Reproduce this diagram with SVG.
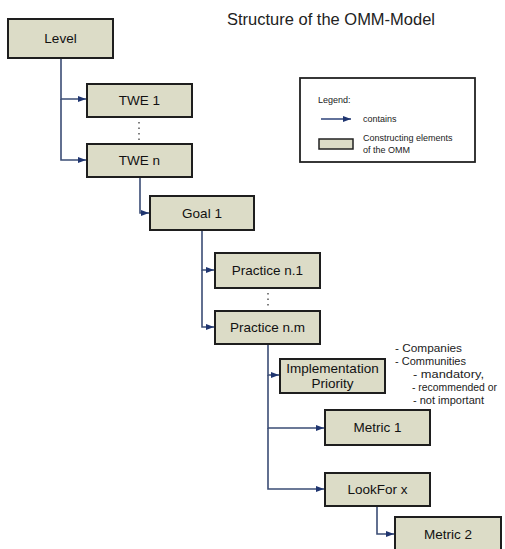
<svg xmlns="http://www.w3.org/2000/svg" width="505" height="549" viewBox="0 0 505 549">
<style>
.box{fill:#dcdcc7;stroke:#1e1e1e;stroke-width:2}
.lbl{font-family:"Liberation Sans",Arial,sans-serif;font-size:13.5px;fill:#111;text-anchor:middle}
.conn{fill:none;stroke:#3b4d75;stroke-width:1.6}
.dots{stroke:#555;stroke-width:1.5;stroke-dasharray:1.5 4;fill:none}
.note{font-family:"Liberation Sans",Arial,sans-serif;font-size:11.5px;fill:#222}
.leg{font-family:"Liberation Sans",Arial,sans-serif;font-size:9px;fill:#222}
</style>
<defs>
<marker id="arr" markerWidth="8" markerHeight="6" refX="8" refY="3" orient="auto" markerUnits="userSpaceOnUse">
<path d="M0,0 L8,3 L0,6 Z" fill="#1f3570"/>
</marker>
</defs>
<rect width="505" height="549" fill="#fff"/>
<text x="227" y="25" font-family="Liberation Sans,Arial,sans-serif" font-size="16" fill="#222" textLength="208" lengthAdjust="spacingAndGlyphs">Structure of the OMM-Model</text>

<g id="connectors">
<path class="conn" d="M61,58 V99 H86" marker-end="url(#arr)"/>
<path class="conn" d="M61,99 V160 H86" marker-end="url(#arr)"/>
<path class="conn" d="M140,177 V213 H149" marker-end="url(#arr)"/>
<path class="conn" d="M202,230 V270 H214" marker-end="url(#arr)"/>
<path class="conn" d="M202,270 V327 H214" marker-end="url(#arr)"/>
<path class="conn" d="M268,344 V375 H279" marker-end="url(#arr)"/>
<path class="conn" d="M268,375 V428 H324" marker-end="url(#arr)"/>
<path class="conn" d="M268,428 V489 H324" marker-end="url(#arr)"/>
<path class="conn" d="M377,506 V534 H394" marker-end="url(#arr)"/>
<path class="dots" d="M139,122 V140"/>
<path class="dots" d="M268,293 V309"/>
</g>

<g id="level"><rect class="box" x="8" y="19" width="105" height="39"/><text class="lbl" x="60.5" y="43">Level</text></g>
<g id="twe1"><rect class="box" x="87" y="84" width="105" height="33"/><text class="lbl" x="139.5" y="105">TWE 1</text></g>
<g id="twen"><rect class="box" x="87" y="144" width="105" height="33"/><text class="lbl" x="139.5" y="165">TWE n</text></g>
<g id="goal1"><rect class="box" x="150" y="196" width="104" height="34"/><text class="lbl" x="202" y="218">Goal 1</text></g>
<g id="practice-n1"><rect class="box" x="215" y="253" width="105" height="35"/><text class="lbl" x="267.5" y="275">Practice n.1</text></g>
<g id="practice-nm"><rect class="box" x="215" y="311" width="105" height="33"/><text class="lbl" x="267.5" y="332">Practice n.m</text></g>
<g id="impl-priority"><rect class="box" x="280" y="359" width="105" height="34"/><text class="lbl" x="332.5" y="373">Implementation</text><text class="lbl" x="332.5" y="388">Priority</text></g>
<g id="metric1"><rect class="box" x="325" y="410" width="105" height="35"/><text class="lbl" x="377.5" y="432">Metric 1</text></g>
<g id="lookfor"><rect class="box" x="325" y="473" width="105" height="33"/><text class="lbl" x="377.5" y="494">LookFor x</text></g>
<g id="metric2"><rect class="box" x="395" y="517" width="106" height="40"/><text class="lbl" x="448" y="539">Metric 2</text></g>

<g id="priority-notes">
<text class="note" x="395" y="352" textLength="67" lengthAdjust="spacingAndGlyphs">- Companies</text>
<text class="note" x="395" y="365" textLength="71" lengthAdjust="spacingAndGlyphs">- Communities</text>
<text class="note" x="413" y="378" textLength="71" lengthAdjust="spacingAndGlyphs">- mandatory,</text>
<text class="note" x="412" y="391" textLength="85" lengthAdjust="spacingAndGlyphs">- recommended or</text>
<text class="note" x="413" y="404" textLength="71" lengthAdjust="spacingAndGlyphs">- not important</text>
</g>

<g id="legend">
<rect x="300" y="78" width="175" height="84" fill="#fff" stroke="#222" stroke-width="1.8"/>
<text class="leg" x="318" y="103">Legend:</text>
<path d="M321,119 H351" stroke="#1f3570" stroke-width="1.4" fill="none" marker-end="url(#arr)"/>
<text class="leg" x="363" y="122">contains</text>
<rect x="319" y="139" width="34" height="10" fill="#dcdcc7" stroke="#222" stroke-width="1.5"/>
<text class="leg" x="363" y="141">Constructing elements</text>
<text class="leg" x="363" y="153">of the OMM</text>
</g>
</svg>
